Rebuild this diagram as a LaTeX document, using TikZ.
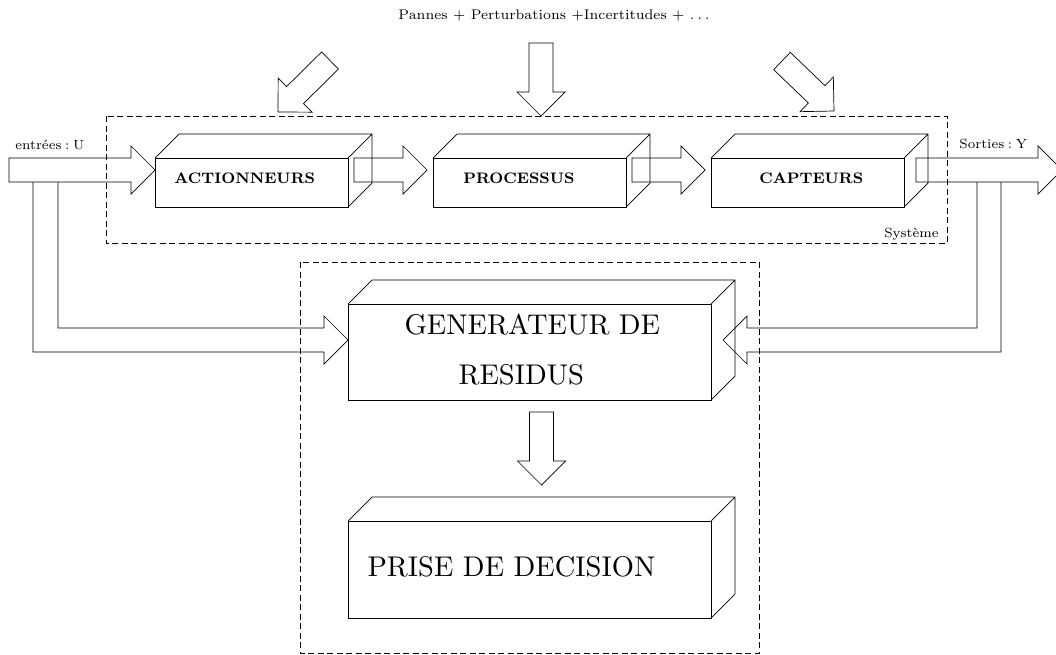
\documentclass[tikz,border=0pt]{standalone}
\usetikzlibrary{calc}

\tikzset{
  line/.style={line width=0.7pt, line join=miter},
  frame/.style={line width=0.6pt, dash pattern=on 6pt off 3.5pt},
  face/.style={draw, line width=0.7pt, inner sep=0pt, outer sep=0pt},
  lbl/.style={inner sep=0pt, anchor=base west, scale=1.9, font=\fontsize{7}{8}\selectfont},
  boxlbl/.style={inner sep=0pt, anchor=base west, scale=1.9, font=\fontsize{8}{9}\selectfont\bfseries},
  biglbl/.style={inner sep=0pt, anchor=base west, scale=2.85, font=\fontsize{10}{12}\selectfont},
}

% a box drawn in perspective: front face as a node, top and side faces behind it
\newcommand\cuboid[5]{%
  \node[face, minimum width=#4pt, minimum height=#5pt] (#1) at (#2,#3) {};
  \draw[line] (#1.north west) -- ++(24,-24) -| ($(#1.south east)+(24,-24)$) -- (#1.south east)
    (#1.north east) -- ++(24,-24);
}

% a hollow block arrow from #1 to its tip #2
\newcommand\fatarrow[2]{%
  \coordinate (fa-b) at ($(#2)!24pt!(#1)$);
  \draw[line] ($(#1)!12pt!90:(#2)$) -- ($(fa-b)!12pt!90:(#2)$) -- ($(fa-b)!24pt!90:(#2)$)
    -- (#2) -- ($(fa-b)!24pt!-90:(#2)$) -- ($(fa-b)!12pt!-90:(#2)$)
    -- ($(#1)!12pt!-90:(#2)$) -- cycle;
}

\begin{document}
\begin{tikzpicture}[x=1pt,y=-1pt]
\useasboundingbox (0,0) rectangle (1056,654);
\clip (0,0) rectangle (1056,654);

% the system and the diagnosis frames
\draw[frame] (106,116) rectangle (947,243);
\draw[frame] (300,262) rectangle (759,653);

% blocks
\cuboid{act}{251.5}{182.5}{193}{49}
\cuboid{proc}{529.5}{182.5}{193}{49}
\cuboid{cap}{807.5}{182.5}{193}{49}
\cuboid{gen}{529.5}{352}{363}{96}
\cuboid{dec}{529.5}{569.5}{363}{97}

\node[boxlbl] (act-t) at (174,183) {ACTIONNEURS};
\node[boxlbl] (proc-t) at (463,183) {PROCESSUS};
\node[boxlbl] (cap-t) at (759,183) {CAPTEURS};
\node[biglbl] (gen-t1) at (404,334) {GENERATEUR DE};
\node[biglbl] (gen-t2) at (458,384) {RESIDUS};
\node[biglbl] (dec-t) at (367,576) {PRISE DE DECISION};

% labels
\node[lbl, anchor=base, scale=1.05] (dist) at (554,19) {Pannes + Perturbations +Incertitudes + $\ldots$};
\node[lbl] (in-t) at (15,149) {entrées\;:\;U};
\node[lbl] (out-t) at (959,148) {Sorties\;:\;Y};
\node[lbl, anchor=base east] (sys-t) at (939,237) {Système};

% main signal flow
\coordinate (in-s) at (9,170);
\coordinate (out-e) at (1062,170);
\fatarrow{in-s}{$(act.north west)+(0,12)$}
\fatarrow{$(act.north east)+(6,12)$}{$(proc.north west)+(-6,12)$}
\fatarrow{$(proc.north east)+(6,12)$}{$(cap.north west)+(-6,12)$}
\fatarrow{$(cap.north east)+(12,12)$}{out-e}

% disturbances entering the system
\coordinate (d1-s) at (330,60.5);  \coordinate (d1-e) at (278,112);
\coordinate (d2-s) at (541,43);    \coordinate (d2-e) at (541,116);
\coordinate (d3-s) at (782,61);    \coordinate (d3-e) at (834,111);
\fatarrow{d1-s}{d1-e}
\fatarrow{d2-s}{d2-e}
\fatarrow{d3-s}{d3-e}

% residuals to decision
\fatarrow{$(gen.south)+(12,12)$}{$(dec.north)+(12,-36)$}

% inputs and outputs fed to the residual generator
\coordinate (u1) at (33,182);  \coordinate (u2) at (58,182);
\coordinate (y1) at (977,182); \coordinate (y2) at (1001,182);
\coordinate (fbL) at ($(gen.west)+(0,-12)$);
\coordinate (fbR) at ($(gen.east)+(12,-12)$);
\draw[line] (u1) |- ($(fbL)+(-24,12)$) -- ++(0,12) -- (fbL) -- ++(-24,-24) -- ++(0,12) -| (u2);
\draw[line] (y2) |- ($(fbR)+(24,12)$) -- ++(0,12) -- (fbR) -- ++(24,-24) -- ++(0,12) -| (y1);
\end{tikzpicture}
\end{document}
